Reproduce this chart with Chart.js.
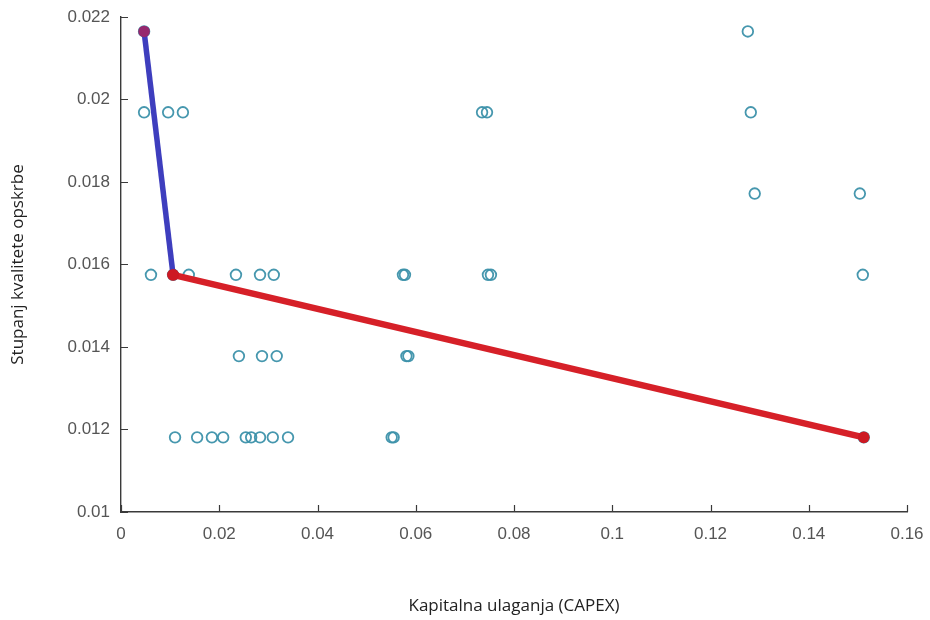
<!DOCTYPE html>
<html>
<head>
<meta charset="utf-8">
<script src="https://cdn.jsdelivr.net/npm/chart.js@4.4.1/dist/chart.umd.min.js"></script>
<style>
html,body{margin:0;padding:0;background:#fff;}
#wrap{width:930px;height:620px;}
</style>
</head>
<body>
<div id="wrap"><canvas id="c" width="930" height="620"></canvas></div>
<script>
// ---- data ----
const capexValues = [
  0.0047, 0.1276,
  0.0047, 0.0096, 0.0126, 0.0735, 0.0745, 0.1282,
  0.1290, 0.1504,
  0.0061, 0.0106, 0.0138, 0.0234, 0.0283, 0.0311, 0.0574, 0.0578, 0.0747, 0.0753, 0.1510,
  0.0240, 0.0287, 0.0317, 0.0581, 0.0585,
  0.0110, 0.0155, 0.0185, 0.0208, 0.0254, 0.0265, 0.0283, 0.0309, 0.0340, 0.0551, 0.0555, 0.1512
];
const qualityValues = [
  0.02165, 0.02165,
  0.01969, 0.01969, 0.01969, 0.01969, 0.01969, 0.01969,
  0.01772, 0.01772,
  0.01575, 0.01575, 0.01575, 0.01575, 0.01575, 0.01575, 0.01575, 0.01575, 0.01575, 0.01575, 0.01575,
  0.01378, 0.01378, 0.01378, 0.01378, 0.01378,
  0.01181, 0.01181, 0.01181, 0.01181, 0.01181, 0.01181, 0.01181, 0.01181, 0.01181, 0.01181, 0.01181, 0.01181
];
const steepCapex = [0.0047, 0.0106];
const steepQuality = [0.02165, 0.01575];
const flatCapex = [0.0106, 0.1512];
const flatQuality = [0.01575, 0.01181];
const xTickValues = [0, 0.02, 0.04, 0.06, 0.08, 0.1, 0.12, 0.14, 0.16];
const xTickLabels = ['0', '0.02', '0.04', '0.06', '0.08', '0.1', '0.12', '0.14', '0.16'];
const yTickValues = [0.01, 0.012, 0.014, 0.016, 0.018, 0.02, 0.022];
const yTickLabels = ['0.01', '0.012', '0.014', '0.016', '0.018', '0.02', '0.022'];
const xTitle = 'Kapitalna ulaganja (CAPEX)';
const yTitle = 'Stupanj kvalitete opskrbe';

const toPoints = (xs, ys) => xs.map((x, i) => ({x: x, y: ys[i]}));

const innerTicks = {
  id: 'innerTicks',
  afterDraw(chart) {
    const ctx = chart.ctx;
    const xs = chart.scales.x, ys = chart.scales.y;
    const a = chart.chartArea;
    ctx.save();
    ctx.strokeStyle = '#3a3a3a';
    ctx.lineWidth = 1.2;
    ctx.beginPath();
    xTickValues.forEach(v => {
      const px = Math.round(xs.getPixelForValue(v)) + 0.5;
      ctx.moveTo(px, a.bottom);
      ctx.lineTo(px, a.bottom - 7);
    });
    yTickValues.forEach(v => {
      const py = Math.round(ys.getPixelForValue(v)) + 0.5;
      ctx.moveTo(a.left, py);
      ctx.lineTo(a.left + 7, py);
    });
    ctx.stroke();
    ctx.restore();
  }
};

new Chart(document.getElementById('c'), {
  type: 'scatter',
  data: {
    datasets: [
      {
        label: 'flat',
        type: 'line',
        data: toPoints(flatCapex, flatQuality),
        borderColor: 'rgb(214,32,40)',
        borderWidth: 6.5,
        pointRadius: 5.8,
        pointBackgroundColor: 'rgb(205,25,35)',
        pointBorderWidth: 0,
        fill: false,
        order: 1
      },
      {
        label: 'steep',
        type: 'line',
        data: toPoints(steepCapex, steepQuality),
        borderColor: 'rgb(62,62,190)',
        borderWidth: 5.5,
        pointRadius: 5.8,
        pointBackgroundColor: ['rgb(150,40,110)', 'rgb(205,25,35)'],
        pointBorderWidth: 0,
        fill: false,
        order: 0
      },
      {
        label: 'solutions',
        data: toPoints(capexValues, qualityValues),
        pointStyle: 'circle',
        pointRadius: 5.3,
        pointBorderWidth: 1.8,
        pointBorderColor: 'rgba(60,145,170,0.95)',
        pointBackgroundColor: 'rgba(0,0,0,0)',
        order: 2
      }
    ]
  },
  options: {
    responsive: false,
    animation: false,
    events: [],
    layout: {padding: {top: 17, right: 23, left: 0, bottom: 0}},
    plugins: {legend: {display: false}, tooltip: {enabled: false}},
    scales: {
      x: {
        type: 'linear',
        min: 0, max: 0.16,
        afterBuildTicks: s => { s.ticks = xTickValues.map(v => ({value: v})); },
        afterFit: s => { s.height = 108; s.paddingLeft = 0; s.paddingRight = 0; },
        grid: {display: false, drawTicks: false},
        border: {display: true, color: '#3a3a3a', width: 1.4},
        ticks: {
          autoSkip: false,
          maxRotation: 0,
          padding: 12,
          color: '#555',
          font: {family: '"Liberation Sans", Arial, sans-serif', size: 17},
          callback: (v, i) => xTickLabels[i]
        },
        title: {
          display: true,
          text: xTitle,
          color: '#222',
          font: {family: '"Open Sans", sans-serif', size: 17},
          padding: {top: 0, bottom: 4}
        }
      },
      y: {
        type: 'linear',
        min: 0.01, max: 0.022,
        afterBuildTicks: s => { s.ticks = yTickValues.map(v => ({value: v})); },
        afterFit: s => { s.width = 121; s.paddingTop = 0; s.paddingBottom = 0; },
        grid: {display: false, drawTicks: false},
        border: {display: true, color: '#3a3a3a', width: 1.4},
        ticks: {
          autoSkip: false,
          padding: 11,
          color: '#555',
          font: {family: '"Liberation Sans", Arial, sans-serif', size: 17},
          callback: (v, i) => yTickLabels[i]
        },
        title: {
          display: true,
          text: yTitle,
          color: '#222',
          font: {family: '"Open Sans", sans-serif', size: 17},
          padding: {top: 8, bottom: 0}
        }
      }
    }
  },
  plugins: [innerTicks]
});
</script>
</body>
</html>
